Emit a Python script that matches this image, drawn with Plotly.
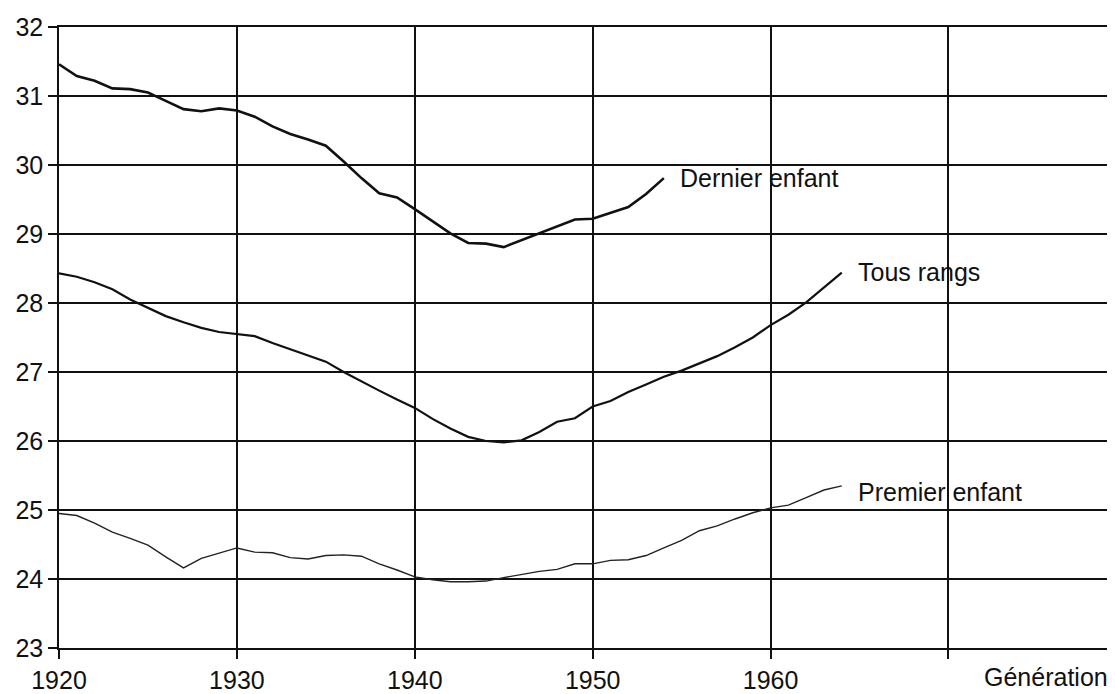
import plotly.graph_objects as go

years_dernier = list(range(1920, 1955))
dernier = [31.46, 31.29, 31.22, 31.11, 31.10, 31.05, 30.93, 30.81, 30.78, 30.82,
           30.79, 30.70, 30.56, 30.45, 30.37, 30.28, 30.05, 29.81, 29.59, 29.53,
           29.36, 29.19, 29.01, 28.87, 28.86, 28.81, 28.91, 29.02, 29.12, 29.21,
           29.22, 29.30, 29.39, 29.58, 29.81]

years_tous = list(range(1920, 1965))
tous = [28.43, 28.38, 28.30, 28.20, 28.05, 27.93, 27.81, 27.72, 27.64, 27.58,
        27.55, 27.52, 27.42, 27.33, 27.24, 27.15, 27.00, 26.86, 26.73, 26.60,
        26.48, 26.32, 26.18, 26.06, 26.00, 25.98, 26.01, 26.13, 26.28, 26.33,
        26.50, 26.58, 26.71, 26.82, 26.93, 27.02, 27.12, 27.23, 27.36, 27.50,
        27.68, 27.83, 28.01, 28.22, 28.44]

years_premier = list(range(1920, 1965))
premier = [24.95, 24.92, 24.81, 24.68, 24.59, 24.49, 24.32, 24.16, 24.30, 24.37,
           24.45, 24.39, 24.38, 24.31, 24.29, 24.34, 24.35, 24.33, 24.22, 24.13,
           24.03, 23.99, 23.96, 23.96, 23.97, 24.02, 24.07, 24.11, 24.14, 24.22,
           24.22, 24.27, 24.28, 24.34, 24.45, 24.56, 24.70, 24.77, 24.87, 24.96,
           25.03, 25.07, 25.18, 25.29, 25.35]

x_ticks = [1920, 1930, 1940, 1950, 1960, 1970]
x_ticktext = ["1920", "1930", "1940", "1950", "1960", ""]
y_ticks = list(range(23, 33))

labels = ["Dernier enfant", "Tous rangs", "Premier enfant"]
label_x = [1954.8, 1964.8, 1964.8]
label_y = [29.81, 28.45, 25.26]

FONT = "Arial, Liberation Sans, sans-serif"

fig = go.Figure()
fig.add_trace(go.Scatter(x=years_dernier, y=dernier, mode="lines",
                         line=dict(color="#111111", width=2.6), showlegend=False))
fig.add_trace(go.Scatter(x=years_tous, y=tous, mode="lines",
                         line=dict(color="#111111", width=2.2), showlegend=False))
fig.add_trace(go.Scatter(x=years_premier, y=premier, mode="lines",
                         line=dict(color="#222222", width=1.4), showlegend=False))

for t, xx, yy in zip(labels, label_x, label_y):
    fig.add_annotation(x=xx, y=yy, text=t, showarrow=False, xanchor="left",
                       yanchor="middle", font=dict(family=FONT, size=25, color="#111"))

fig.add_annotation(x=1975.5, y=0, xref="x", yref="paper", yshift=-13,
                   text="Génération", showarrow=False, xanchor="center",
                   yanchor="top", font=dict(family=FONT, size=25, color="#111"))

fig.update_layout(
    width=1107, height=686,
    margin=dict(l=51, r=0, t=19, b=46, autoexpand=False),
    paper_bgcolor="white", plot_bgcolor="white",
    font=dict(family=FONT, size=25, color="#111"),
    xaxis=dict(range=[1920, 1979.36], tickvals=x_ticks, ticktext=x_ticktext,
               showgrid=True, gridcolor="#111", gridwidth=1.6,
               showline=True, linecolor="#111", linewidth=1.6, mirror=True,
               ticks="outside", ticklen=9, tickwidth=1.6, tickcolor="#111",
               zeroline=False, tickfont=dict(size=25), automargin=False),
    yaxis=dict(range=[23, 32], tickvals=y_ticks,
               showgrid=True, gridcolor="#111", gridwidth=1.6,
               showline=True, linecolor="#111", linewidth=1.6,
               ticks="outside", ticklen=9, tickwidth=1.6, tickcolor="#111",
               zeroline=False, tickfont=dict(size=25), automargin=False),
)

fig.write_html("out.html")
